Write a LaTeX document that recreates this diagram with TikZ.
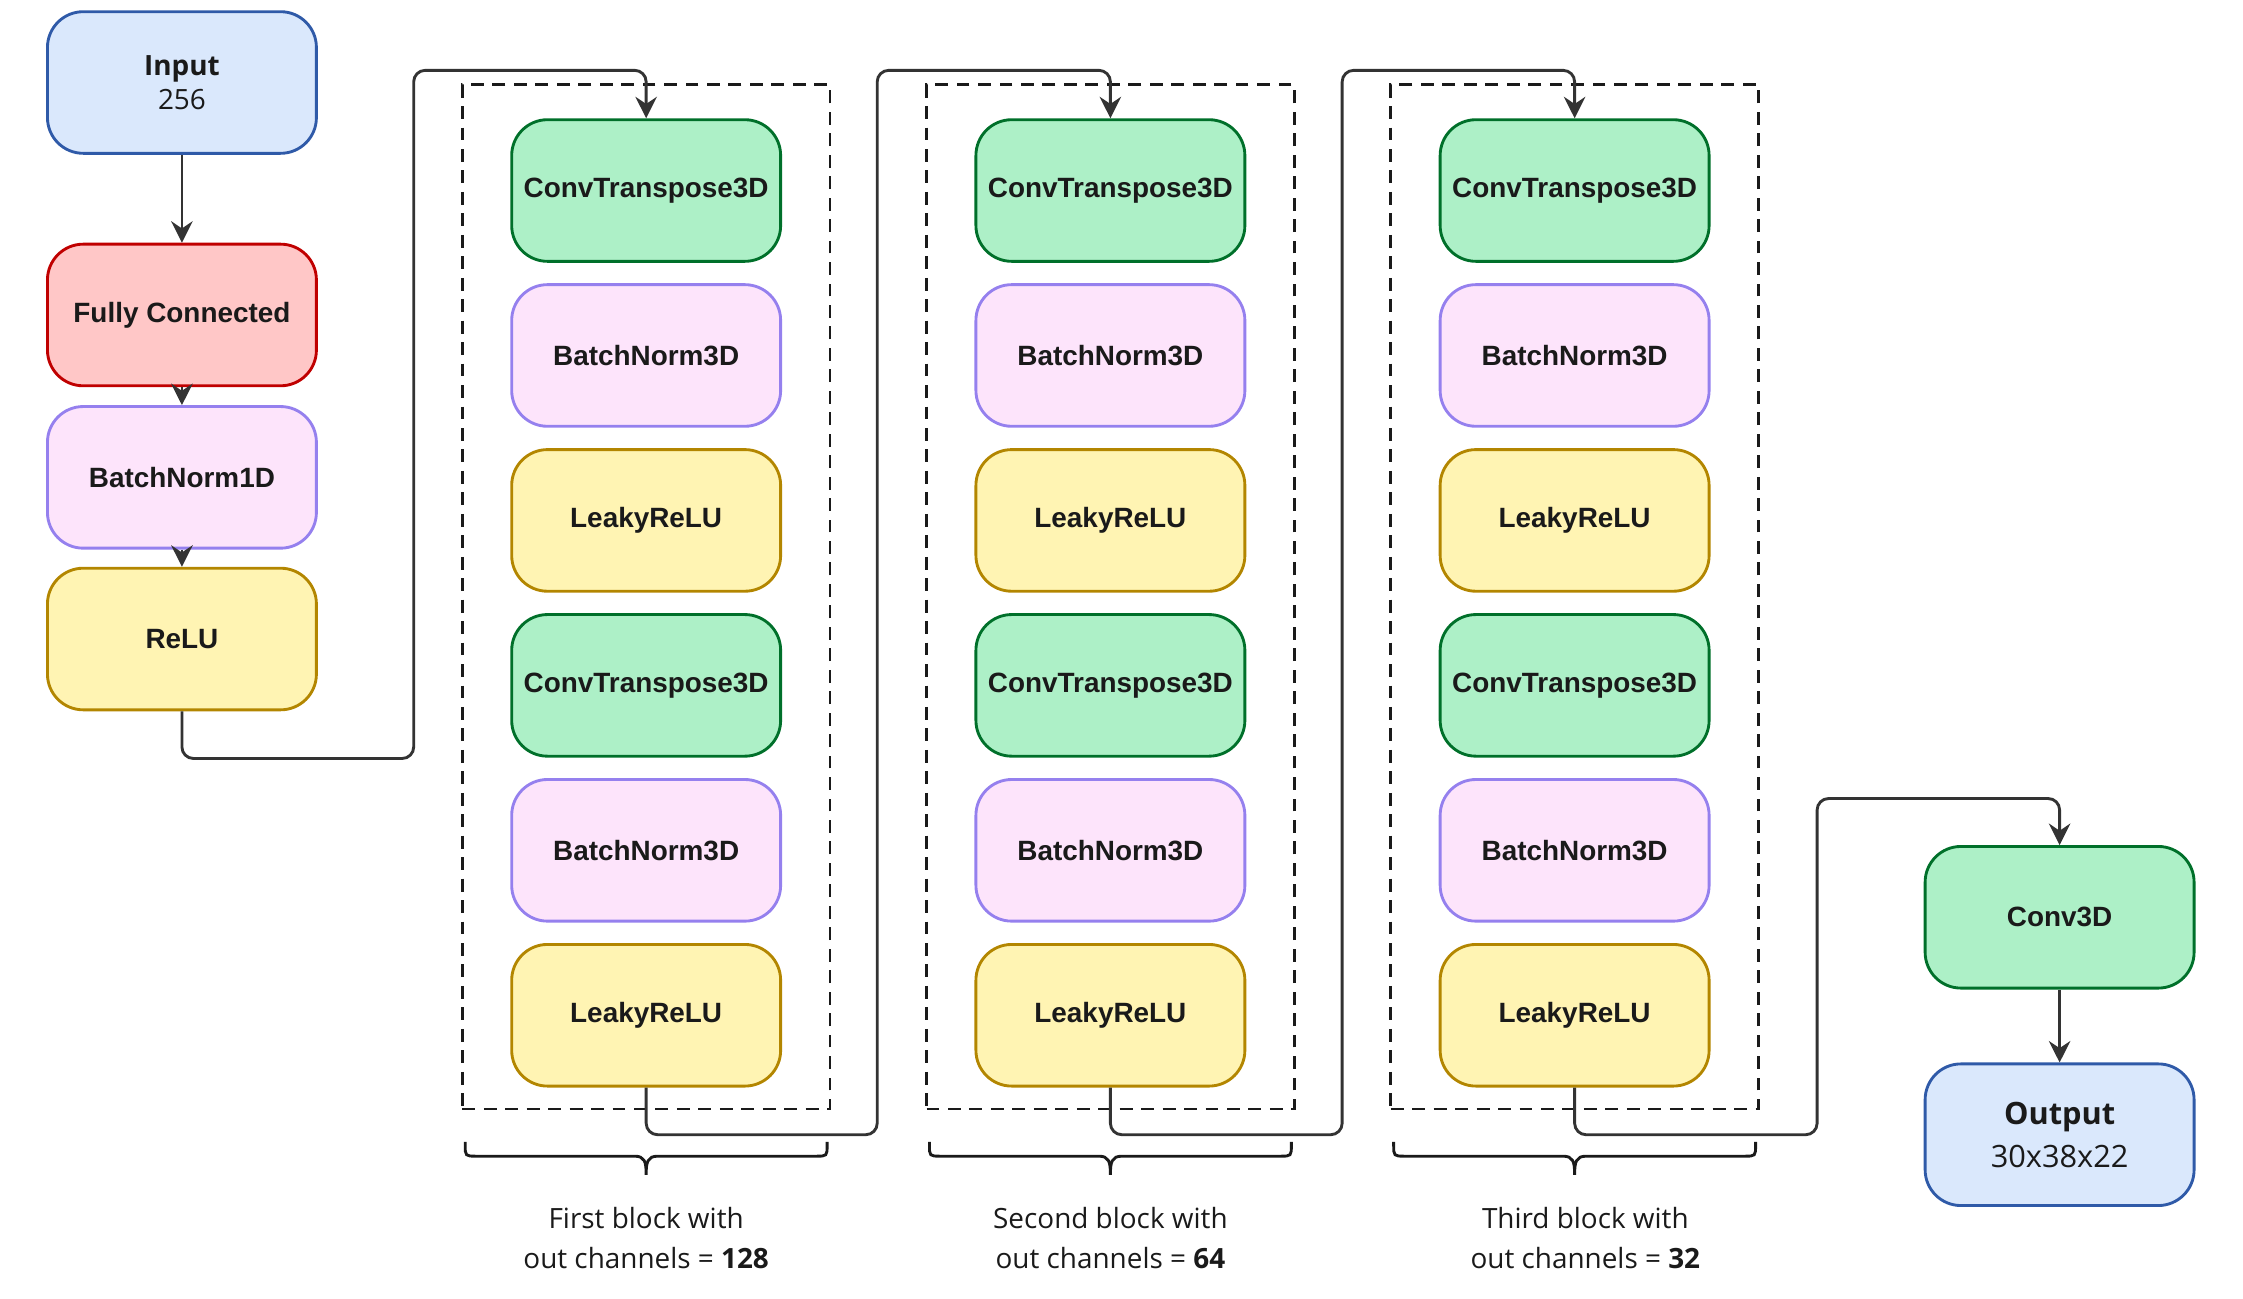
\documentclass[tikz,border=0pt]{standalone}
\usepackage{fontspec}
\setmainfont{Liberation Sans}
\newfontfamily\osans{Open Sans}
\usetikzlibrary{arrows.meta}
\definecolor{bluefill}{HTML}{DAE8FC}
\definecolor{bluedraw}{HTML}{2F5AA8}
\definecolor{redfill}{HTML}{FFC7C7}
\definecolor{reddraw}{HTML}{C00000}
\definecolor{pinkfill}{HTML}{FDE4FB}
\definecolor{pinkdraw}{HTML}{9580EE}
\definecolor{yelfill}{HTML}{FFF4B3}
\definecolor{yeldraw}{HTML}{B38600}
\definecolor{grnfill}{HTML}{ADF0C7}
\definecolor{grndraw}{HTML}{00702A}
\definecolor{linec}{HTML}{333333}
\definecolor{txt}{HTML}{1A1A1A}
\tikzset{
  layer/.style={rectangle, rounded corners=25pt, minimum width=188pt, minimum height=99pt,
    line width=2pt, inner sep=0pt, text=txt, align=center,
    font=\fontsize{19.5}{24}\selectfont\bfseries},
  bluebox/.style={layer, fill=bluefill, draw=bluedraw},
  redbox/.style={layer, fill=redfill, draw=reddraw},
  pinkbox/.style={layer, fill=pinkfill, draw=pinkdraw},
  yelbox/.style={layer, fill=yelfill, draw=yeldraw},
  grnbox/.style={layer, fill=grnfill, draw=grndraw},
  conn/.style={draw=linec, line width=2pt, rounded corners=8pt,
    -{Stealth[length=15pt, width=15pt, inset=5pt]}},
  group/.style={rectangle, draw=txt, line width=2pt, dash pattern=on 9pt off 6pt,
    minimum width=257pt, minimum height=716pt, inner sep=0pt},
  bracestyle/.style={draw=txt, line width=2pt},
  caption/.style={align=center, text=txt, inner sep=0pt,
    font=\osans\fontsize{19.5}{28}\selectfont},
}
\begin{document}
\begin{tikzpicture}[x=1pt, y=-1pt]
\useasboundingbox (-0.17,-0.17) rectangle (1567.7,907.8);
% left column
\node[bluebox, font=\osans\fontsize{19.5}{24}\selectfont] (in) at (127,57.5) {\textbf{Input}\\256};
\node[redbox] (fc) at (127,220) {Fully Connected};
\node[pinkbox] (bn1) at (127,333.5) {BatchNorm1D};
\node[yelbox] (relu) at (127,446.5) {ReLU};
\draw[conn] (in) -- (fc);
\draw[conn] (fc) -- (bn1);
\draw[conn] (bn1) -- (relu);
% blocks
\foreach \i/\x in {1/451.5, 2/776, 3/1100.5}{
  \node[group] (g\i) at (\x,417) {};
  \node[grnbox]  (b\i r1) at (\x,133)   {ConvTranspose3D};
  \node[pinkbox] (b\i r2) at (\x,248.3) {BatchNorm3D};
  \node[yelbox]  (b\i r3) at (\x,363.6) {LeakyReLU};
  \node[grnbox]  (b\i r4) at (\x,478.9) {ConvTranspose3D};
  \node[pinkbox] (b\i r5) at (\x,594.2) {BatchNorm3D};
  \node[yelbox]  (b\i r6) at (\x,709.5) {LeakyReLU};
  \draw[bracestyle] (\x-126.5,798) -- (\x-126.5,800) .. controls (\x-126.5,808) .. (\x-118.5,808)
     -- (\x-8,808) .. controls (\x-1,808) and (\x,812) .. (\x,821)
     .. controls (\x,812) and (\x+1,808) .. (\x+8,808)
     -- (\x+118.5,808) .. controls (\x+126.5,808) .. (\x+126.5,800) -- (\x+126.5,798);
}
% output column
\node[grnbox] (conv) at (1439.5,641) {Conv3D};
\node[bluebox, font=\osans\fontsize{21.5}{30}\selectfont] (out) at (1439.5,793) {\textbf{Output}\\30x38x22};
\draw[conn] (conv) -- (out);
% connectors between stages
\draw[conn] (relu.south) -- (127,530) -- (289,530) -- (289,49) -- (451.5,49) -- (b1r1.north);
\draw[conn] (b1r6.south) -- (451.5,793) -- (613,793) -- (613,49) -- (776,49) -- (b2r1.north);
\draw[conn] (b2r6.south) -- (776,793) -- (938,793) -- (938,49) -- (1100.5,49) -- (b3r1.north);
\draw[conn] (b3r6.south) -- (1100.5,793) -- (1270,793) -- (1270,558) -- (1439.5,558) -- (conv.north);
% captions
\node[caption] (c1) at (451.5,865) {First block with\\out channels = \textbf{128}};
\node[caption] (c2) at (776,865) {Second block with\\out channels = \textbf{64}};
\node[caption] (c3) at (1108,865) {Third block with\\out channels = \textbf{32}};
\end{tikzpicture}
\end{document}
